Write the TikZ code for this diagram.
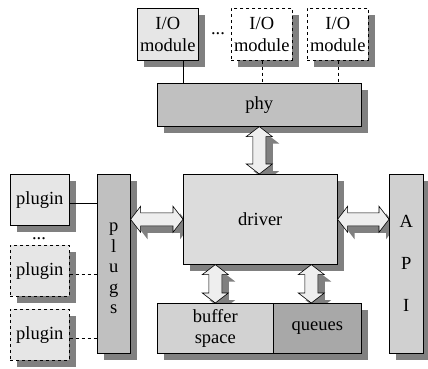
\documentclass[tikz,border=0pt]{standalone}
\usepackage{fontspec}
\setmainfont{Liberation Serif}
\usetikzlibrary{calc,shadows}
\pgfdeclarelayer{back}
\pgfsetlayers{back,main}

\definecolor{shadowgray}{HTML}{808080}
\definecolor{lightfill}{HTML}{E6E6E6}
\definecolor{midfill}{HTML}{C0C0C0}
\definecolor{driverfill}{HTML}{DCDCDC}
\definecolor{apifill}{HTML}{D0D0D0}
\definecolor{bufferfill}{HTML}{D2D2D2}
\definecolor{queuefill}{HTML}{A8A8A8}
\definecolor{arrowfill}{HTML}{EEEEEE}

% horizontal double arrow between two tips (left, right)
\newcommand{\hdblarrow}[2]{(#1) -- ($(#1)+(10,13)$) -- ($(#1)+(10,6.5)$) -- ($(#2)+(-10,6.5)$) -- ($(#2)+(-10,13)$) -- (#2) -- ($(#2)+(-10,-13)$) -- ($(#2)+(-10,-6.5)$) -- ($(#1)+(10,-6.5)$) -- ($(#1)+(10,-13)$) -- cycle}
% vertical double arrow between two tips (top, bottom)
\newcommand{\vdblarrow}[2]{(#1) -- ($(#1)+(13,10)$) -- ($(#1)+(6.5,10)$) -- ($(#2)+(6.5,-10)$) -- ($(#2)+(13,-10)$) -- (#2) -- ($(#2)+(-13,-10)$) -- ($(#2)+(-6.5,-10)$) -- ($(#1)+(-6.5,10)$) -- ($(#1)+(-13,10)$) -- cycle}

\tikzset{
  box/.style={draw=black, line width=0.6pt, inner sep=0pt, anchor=north west,
    align=center, font=\fontsize{18.5}{22}\selectfont,
    drop shadow={shadow xshift=7pt, shadow yshift=-7pt, fill=shadowgray, opacity=1}},
  optbox/.style={box, dashed},
  link/.style={line width=0.6pt},
  optlink/.style={link, dashed},
  dblarrow/.style={draw=black, line width=0.6pt, fill=arrowfill},
  arrowshadow/.style={fill=shadowgray},
  dots/.style={anchor=base, inner sep=0pt, font=\fontsize{18.5}{22}\selectfont},
}

\begin{document}
\begin{tikzpicture}[x=1pt, y=-1pt]
\useasboundingbox (0,0) rectangle (428,369);

% I/O modules and physical layer
\node[box, fill=lightfill, minimum width=61pt, minimum height=52pt] (io1) at (137,8) {I/O\\module};
\node[dots] (iodots) at (218,34.5) {...};
\node[optbox, fill=white, minimum width=61pt, minimum height=52pt] (io2) at (231,8) {I/O\\module};
\node[optbox, fill=white, minimum width=61pt, minimum height=52pt] (io3) at (307,8) {I/O\\module};
\node[box, fill=midfill, minimum width=204pt, minimum height=43pt] (phy) at (157,83) {phy};

% plugins and plug bus
\node[box, fill=lightfill, minimum width=59pt, minimum height=51pt] (plugin1) at (10,174) {plugin};
\node[dots] (pldots) at (39,239) {...};
\node[optbox, fill=lightfill, minimum width=59pt, minimum height=51pt] (plugin2) at (10,245) {plugin};
\node[optbox, fill=lightfill, minimum width=59pt, minimum height=51pt] (plugin3) at (10,309) {plugin};
% an empty first line pushes the vertical lettering a little lower
\node[box, fill=midfill, minimum width=33pt, minimum height=179pt, font=\fontsize{18.5}{20.5}\selectfont] (plugs) at (97,174) {\mbox{}\\[-2pt]p\\l\\u\\g\\s};

% core
\node[box, fill=driverfill, minimum width=154pt, minimum height=90pt] (driver) at (183,174) {driver};
\node[box, fill=apifill, minimum width=34pt, minimum height=179pt, font=\fontsize{18.5}{42}\selectfont] (api) at (389,174) {A\\P\\I};
\node[box, fill=bufferfill, minimum width=116pt, minimum height=50pt, font=\fontsize{18.5}{21.5}\selectfont] (buffer) at (157,303) {buffer\\space};
\node[box, fill=queuefill, minimum width=88pt, minimum height=50pt] (queues) at (273,303) {queues};

% plain connectors
\coordinate (io1p) at ([xshift=15.5pt]io1.south);
\draw[link] (io1p) -- (io1p |- phy.north);
\draw[optlink] (io2.south) -- (io2.south |- phy.north);
\draw[optlink] (io3.south) -- (io3.south |- phy.north);
\coordinate (pl1) at ([yshift=-3pt]plugin1.east);
\coordinate (pl2) at ([yshift=-3pt]plugin2.east);
\coordinate (pl3) at ([yshift=-3pt]plugin3.east);
\draw[link] (pl1) -- (pl1 -| plugs.west);
\draw[optlink] (pl2) -- (pl2 -| plugs.west);
\draw[optlink] (pl3) -- (pl3 -| plugs.west);

% tips of the double arrows
\coordinate (a1t) at (phy.south);
\coordinate (a1b) at (phy.south |- driver.north);
\coordinate (a2l) at (plugs.east |- driver.west);
\coordinate (a2r) at (driver.west);
\coordinate (a3l) at (driver.east);
\coordinate (a3r) at (api.west |- driver.east);
\coordinate (a4t) at (buffer.north |- driver.south);
\coordinate (a4b) at (buffer.north);
\coordinate (q5) at ([xshift=-6pt]queues.north);
\coordinate (a5t) at (q5 |- driver.south);
\coordinate (a5b) at (q5);

% shadows of the double arrows, behind the boxes
\foreach \c in {a1t,a1b,a2l,a2r,a3l,a3r,a4t,a4b,a5t,a5b}
  \coordinate (s\c) at ($(\c)+(7,7)$);
\begin{pgfonlayer}{back}
  \fill[arrowshadow] \vdblarrow{sa1t}{sa1b};
  \fill[arrowshadow] \hdblarrow{sa2l}{sa2r};
  \fill[arrowshadow] \hdblarrow{sa3l}{sa3r};
  \fill[arrowshadow] \vdblarrow{sa4t}{sa4b};
  \fill[arrowshadow] \vdblarrow{sa5t}{sa5b};
\end{pgfonlayer}

% double arrows
\path[dblarrow] \vdblarrow{a1t}{a1b};
\path[dblarrow] \hdblarrow{a2l}{a2r};
\path[dblarrow] \hdblarrow{a3l}{a3r};
\path[dblarrow] \vdblarrow{a4t}{a4b};
\path[dblarrow] \vdblarrow{a5t}{a5b};
\end{tikzpicture}
\end{document}
